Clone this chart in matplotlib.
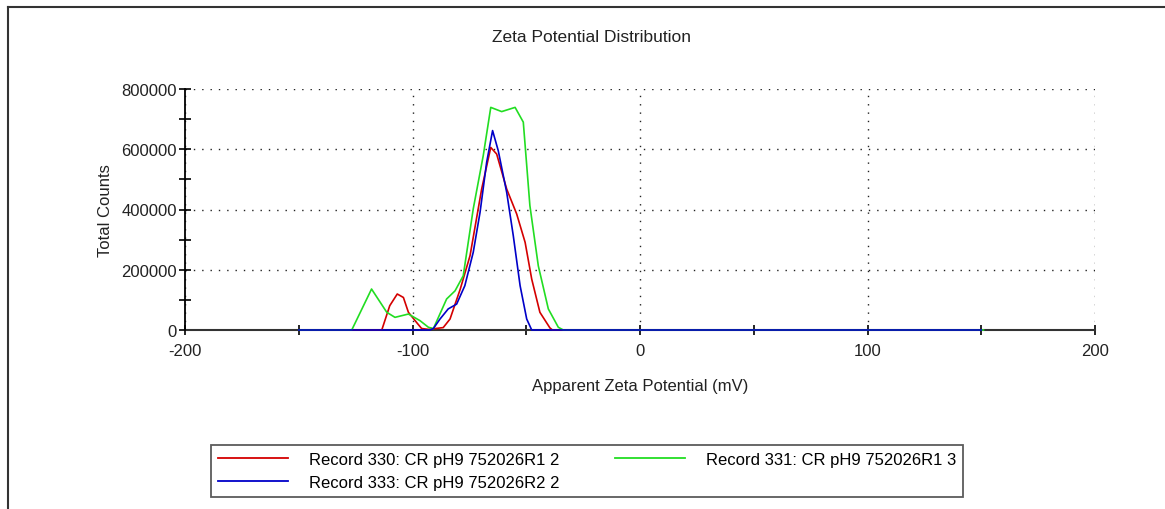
import matplotlib
matplotlib.use("Agg")
import matplotlib.pyplot as plt
from matplotlib.ticker import MultipleLocator, FixedLocator
from matplotlib.lines import Line2D

# ---- data ----
title = "Zeta Potential Distribution"
x_label = "Apparent Zeta Potential (mV)"
y_label = "Total Counts"

labels = ["Record 330: CR pH9 752026R1 2",
          "Record 331: CR pH9 752026R1 3",
          "Record 333: CR pH9 752026R2 2"]
colors = ["#d40000", "#22dd22", "#0000c8"]

red_x = [-150, -113.5, -110, -106.7, -104, -101.8, -98.2, -96, -93, -86.5, -83.5,
         -79, -74.7, -69.6, -65.6, -63, -58.6, -54.2, -50.5, -47.6, -44, -39.6, -38.5, 150]
red_y = [0, 0, 80700, 119500, 108000, 58700, 25000, 5000, 2000, 8000, 36500,
         136000, 247000, 468000, 606000, 584000, 468000, 385000, 291000, 169000, 58700, 7000, 0, 0]

green_x = [-150, -126.7, -118, -111.3, -107.7, -101.8, -96.7, -93, -90.8, -85, -81.3,
           -77.7, -73.3, -68.9, -65.6, -60.8, -54.9, -51.3, -48.4, -44.7, -40.3, -35.9, -33.7, 151]
green_y = [0, 0, 136000, 58700, 42000, 53000, 31000, 9000, 5000, 103000, 130000,
           180000, 402000, 579000, 739000, 725000, 739000, 690000, 413000, 213000, 70000, 9000, 0, 0]

blue_x = [-150, -92.3, -90.8, -87.9, -84.3, -80.6, -77, -73.3, -70.3, -67.4, -64.8,
          -62.3, -58.6, -55.7, -52.7, -49.8, -47.6, 150]
blue_y = [0, 0, 5000, 36500, 70000, 86000, 147000, 258000, 391000, 557000, 662000,
          595000, 457000, 313000, 147000, 36500, 0, 0]

x_major = [-200, -100, 0, 100, 200]
x_minor = [-150, -50, 50, 150]
y_major = [0, 200000, 400000, 600000, 800000]

# ---- figure ----
plt.rcParams['font.family'] = ['Liberation Sans', 'DejaVu Sans']
W, H = 1165, 510
fig = plt.figure(figsize=(W / 100, H / 100), dpi=100)

# outer frame lines (left and top)
fig.add_artist(Line2D([8 / W, 8 / W], [0, 1 - 8 / H], color="#333333", lw=1.5, transform=fig.transFigure))
fig.add_artist(Line2D([8 / W, 1], [1 - 8 / H, 1 - 8 / H], color="#333333", lw=1.5, transform=fig.transFigure))

ax = fig.add_axes([185 / W, 1 - 331 / H, (1095 - 185) / W, (331 - 90) / H])

ax.plot(red_x, red_y, color=colors[0], lw=1.2, zorder=3, clip_on=False)
ax.plot(green_x, green_y, color=colors[1], lw=1.2, zorder=3, clip_on=False)
ax.plot(blue_x, blue_y, color=colors[2], lw=1.2, zorder=4, clip_on=False)

ax.set_xlim(-200, 200)
ax.set_ylim(0, 800000)

for s in ["top", "right"]:
    ax.spines[s].set_visible(False)
ax.spines["left"].set_color("black")
ax.spines["bottom"].set_color("#333333")
ax.spines["left"].set_linewidth(1.3)
ax.spines["bottom"].set_linewidth(1.5)
ax.spines["bottom"].set_zorder(2)

ax.xaxis.set_major_locator(FixedLocator(x_major))
ax.xaxis.set_minor_locator(FixedLocator(x_minor))
ax.yaxis.set_major_locator(FixedLocator(y_major))
ax.yaxis.set_minor_locator(MultipleLocator(100000))
ax.set_xticklabels([str(v) for v in x_major])
ax.set_yticklabels([str(v) for v in y_major])

ax.tick_params(axis="both", which="both", direction="inout", length=8, width=1.2, colors="black",
               labelsize=12, labelcolor="#222222")
ax.tick_params(axis="x", which="both", length=7, pad=6)
ax.tick_params(axis="y", which="both", pad=2)

ax.grid(True, which="major", color="#222222", linestyle=(0, (1, 5)), linewidth=1.0)
ax.set_axisbelow(True)

ax.set_xlabel(x_label, fontsize=12, labelpad=14, color="#222222")
ax.set_ylabel(y_label, fontsize=12, labelpad=6, color="#222222")

fig.text(591 / W, 1 - 38 / H, title, ha="center", va="center", fontsize=12.5,
         family=["Liberation Sans Narrow", "Liberation Sans", "DejaVu Sans"], color="#222222")

handles = [Line2D([], [], color=c, lw=1.3) for c in colors]
order = [0, 2, 1]
leg = fig.legend([handles[i] for i in order], [labels[i] for i in order],
                 ncol=2, loc="upper left", bbox_to_anchor=(211 / W, 1 - 446 / H),
                 frameon=True, fancybox=False, fontsize=12, handlelength=4.2,
                 handletextpad=1.3, columnspacing=3.3, borderpad=0.4, labelspacing=0.5,
                 borderaxespad=0)
leg.get_frame().set_edgecolor("#333333")
leg.get_frame().set_linewidth(1.3)

fig.savefig("out.png", dpi=100)
